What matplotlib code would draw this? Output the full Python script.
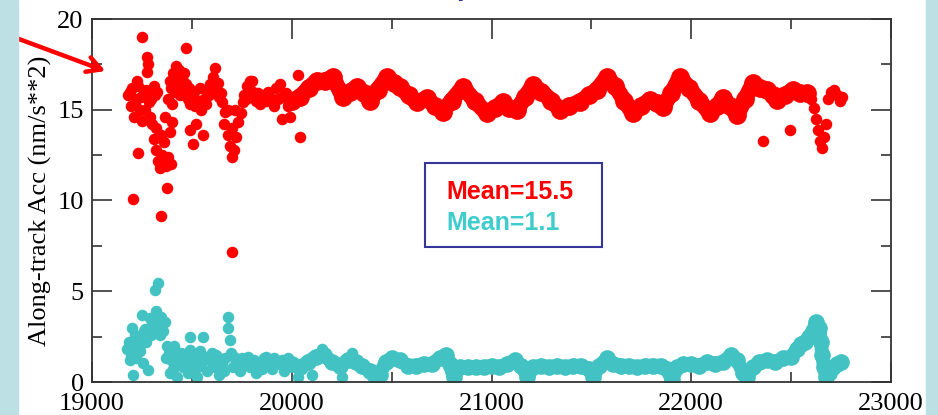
import matplotlib
matplotlib.use("Agg")
import matplotlib.pyplot as plt
from matplotlib.patches import Rectangle

# --- data ---
# red: scattered points (noisy start and the end)
red_x = [19180, 19195, 19200, 19210, 19220, 19230, 19240, 19250, 19260, 19270,
         19285, 19300, 19315, 19325, 19225, 19250, 19275, 19280, 19275, 19470,
         19616, 20031, 19205, 19230, 19290, 19345, 19375, 19700, 19300, 19310,
         19320, 19330, 19340, 19350, 19360, 19370, 19380, 19390, 19400, 19320,
         19345, 19365, 19395, 19380, 19395, 19410, 19420, 19430, 19440, 19450,
         19460, 19470, 19480, 19490, 19400, 19500, 19515, 19530, 19545, 19560,
         19575, 19590, 19605, 19620, 19635, 19650, 19665, 19680, 19490, 19505,
         19555, 19520, 19660, 19680, 19690, 19700, 19710, 19720, 19730, 19745,
         19755, 19700, 19715, 19760, 19775, 19790, 19805, 19820, 19840, 19855,
         19880, 19900, 19920, 19940, 19960, 19980, 19950, 19990, 20040,
         19190, 19215, 19245, 19265, 19295, 19310, 19390, 19405, 19415, 19435,
         19455, 19465, 19485, 19510, 19540, 19570, 19585, 19600, 19630, 19645,
         19770, 19800, 19830, 19870, 19910, 19930, 19970,
         22359, 22494, 22600, 22615, 22625, 22635, 22645, 22655, 22665, 22675,
         22685, 22700, 22715, 22730, 22745, 22755]
red_y = [15.8, 15.2, 16.2, 14.6, 15.6, 16.3, 15.0, 14.4, 15.9, 16.1,
         15.4, 16.0, 15.8, 16.0, 16.6, 19.0, 17.9, 17.5, 17.1, 18.4,
         17.3, 16.9, 10.1, 12.6, 14.6, 9.15, 10.7, 7.15, 14.2, 13.4,
         12.8, 12.2, 11.8, 12.5, 13.2, 11.9, 12.4, 13.8, 14.3, 14.0,
         13.6, 14.6, 12.0, 15.6, 16.2, 16.8, 17.4, 16.5, 15.8, 16.0,
         17.0, 16.4, 15.6, 15.3, 15.3, 15.7, 15.2, 15.5, 15.0, 15.6,
         16.0, 16.4, 16.8, 16.2, 15.7, 15.4, 14.9, 15.0, 13.9, 13.1,
         13.6, 14.2, 14.2, 13.6, 13.0, 12.4, 12.8, 13.5, 14.3, 14.8,
         15.4, 14.0, 15.0, 15.8, 16.3, 16.6, 16.0, 15.5, 15.3, 15.8,
         16.0, 15.6, 16.2, 16.4, 15.8, 15.2, 14.5, 14.6, 13.5,
         16.0, 15.3, 15.7, 15.0, 15.6, 16.3, 16.6, 17.0, 16.0, 17.2,
         16.6, 15.9, 16.2, 16.0, 16.2, 15.3, 15.8, 16.0, 16.5, 15.9,
         15.6, 16.6, 15.9, 15.5, 15.2, 15.6, 15.9,
         13.3, 13.9, 15.6, 15.1, 14.5, 13.9, 13.3, 12.9, 13.5, 14.2,
         15.6, 16.0, 16.1, 15.8, 15.5, 15.7]

# red: dense regular part
red_band_x = [20000, 20041, 20085, 20126, 20166, 20206, 20256, 20290, 20327, 20360,
              20392, 20430, 20477, 20510, 20542, 20585, 20627, 20677, 20715, 20757,
              20800, 20857, 20915, 20977, 21017, 21057, 21090, 21128, 21168, 21208,
              21250, 21300, 21343, 21390, 21443, 21490, 21528, 21578, 21620, 21665,
              21708, 21750, 21793, 21830, 21858, 21900, 21943, 21990, 22040, 22094,
              22130, 22159, 22195, 22229, 22270, 22309, 22345, 22379, 22410, 22429,
              22470, 22509, 22545, 22579]
red_band_y = [15.5, 15.7, 16.2, 16.6, 16.6, 16.8, 15.7, 16.0, 16.25, 15.9,
              15.5, 16.1, 16.8, 16.5, 16.25, 15.8, 15.4, 15.65, 15.2, 14.9,
              15.5, 16.25, 15.5, 14.8, 15.1, 15.4, 15.1, 15.0, 15.7, 16.35,
              16.0, 15.5, 15.0, 15.2, 15.45, 15.8, 16.1, 16.8, 16.3, 15.5,
              14.8, 15.2, 15.55, 15.35, 15.15, 15.9, 16.8, 16.2, 15.5, 14.8,
              15.2, 15.65, 15.2, 14.7, 15.6, 16.45, 16.2, 16.1, 15.8, 15.55,
              15.8, 16.1, 15.9, 15.9]

# cyan: scattered points at the start
cyan_x = [19175, 19185, 19195, 19200, 19205, 19210, 19220, 19230, 19240, 19250,
          19255, 19260, 19270, 19280, 19285, 19295, 19305, 19315, 19320, 19330,
          19335, 19345, 19355, 19365, 19375, 19385, 19395, 19405, 19415, 19425,
          19435, 19445, 19455, 19465, 19480, 19490, 19490, 19500, 19515, 19530,
          19545, 19555, 19560, 19575, 19590, 19605, 19620, 19635, 19650, 19665,
          19680, 19680, 19690, 19695, 19705, 19720, 19740, 19760, 19780, 19800,
          19820, 19840, 19860, 19880, 19900, 19920, 19940, 19960, 19980,
          20030, 20100, 20150, 20250, 20300,
          19190, 19215, 19235, 19265, 19290, 19310, 19340, 19350, 19370, 19390,
          19410, 19440, 19470, 19510, 19525, 19540, 19570, 19600, 19615, 19640,
          19660, 19710, 19730, 19750, 19790, 19810, 19850, 19870, 19890, 19910,
          19950, 19970]
cyan_y = [1.8, 2.2, 1.5, 3.0, 0.4, 2.0, 1.3, 2.4, 1.7, 3.7,
          1.05, 2.8, 2.2, 0.66, 3.0, 2.6, 3.4, 5.07, 3.9, 5.45,
          3.2, 3.6, 2.8, 3.3, 2.0, 1.6, 1.2, 0.7, 1.4, 0.3,
          1.0, 1.6, 0.8, 1.3, 0.5, 2.5, 1.75, 1.1, 0.7, 1.4,
          0.9, 2.5, 1.2, 0.6, 1.3, 0.9, 1.5, 0.4, 1.0, 1.3,
          3.6, 3.0, 2.3, 1.6, 0.8, 1.2, 0.6, 1.1, 1.4, 0.9,
          0.5, 1.1, 1.3, 0.9, 0.7, 1.2, 1.0, 0.6, 1.3,
          0.3, 0.4, 1.8, 0.3, 1.6,
          1.2, 2.6, 1.9, 2.9, 3.5, 2.9, 2.6, 3.3, 1.3, 0.5,
          2.0, 1.2, 1.0, 1.5, 0.3, 1.7, 1.4, 1.6, 0.8, 1.2,
          0.6, 1.4, 1.0, 1.3, 0.8, 1.2, 0.7, 1.4, 1.1, 1.3,
          1.2, 0.9]

# cyan: dense regular part
cyan_band_x = [20000, 20040, 20080, 20120, 20160, 20200, 20240, 20280, 20320, 20350,
               20390, 20420, 20440, 20470, 20500, 20540, 20580, 20620, 20660, 20700,
               20740, 20770, 20790, 20810, 20840, 20880, 20920, 20960, 21000, 21040,
               21080, 21120, 21150, 21180, 21210, 21250, 21290, 21330, 21370, 21410,
               21450, 21490, 21510, 21540, 21580, 21610, 21650, 21690, 21730, 21770,
               21810, 21850, 21880, 21903, 21930, 21960, 22000, 22040, 22080, 22120,
               22160, 22200, 22230, 22260, 22280, 22310, 22340, 22380, 22420, 22460,
               22500, 22530, 22550, 22570, 22590, 22610, 22625, 22640, 22650, 22655,
               22665, 22675, 22690, 22710, 22730, 22750]
cyan_band_y = [1.0, 0.8, 1.1, 1.4, 1.5, 1.1, 0.9, 1.2, 1.1, 0.9,
               0.6, 0.2, 0.4, 1.1, 1.3, 1.2, 0.9, 0.9, 1.0, 1.0,
               1.3, 1.5, 1.0, 0.3, 0.8, 0.8, 0.8, 0.8, 0.9, 0.8,
               1.0, 1.2, 0.9, 0.3, 0.8, 0.9, 0.8, 0.9, 0.8, 0.9,
               0.9, 0.7, 0.3, 0.9, 1.3, 1.0, 0.9, 0.9, 0.8, 0.9,
               0.9, 0.9, 0.7, 0.1, 0.8, 1.0, 1.0, 0.9, 1.1, 1.0,
               1.1, 1.5, 1.2, 0.5, 0.3, 0.8, 1.1, 1.2, 1.1, 1.3,
               1.4, 1.8, 2.1, 2.2, 2.5, 2.8, 3.3, 3.0, 2.2, 1.5,
               0.8, 0.3, 0.5, 0.8, 1.0, 1.1]

red = "#ff0000"
cyan = "#42c2c2"

fig = plt.figure(figsize=(9.38, 4.15), dpi=100, facecolor="white")
# light blue strips on the sides
fig.patches.append(Rectangle((0, 0), 18 / 938, 1, transform=fig.transFigure,
                             color="#bde0e4", zorder=0))
fig.patches.append(Rectangle((926 / 938, 0), 12 / 938, 1, transform=fig.transFigure,
                             color="#bde0e4", zorder=0))

ax = fig.add_axes([92 / 938, 33 / 415, 799 / 938, 363 / 415])

# dense parts: thick trace + dots so the band looks continuous
ax.plot(red_band_x, red_band_y, "-o", color=red, lw=11.5, ms=13.5, mew=0,
        solid_joinstyle="round", solid_capstyle="round")
ax.plot(red_x, red_y, "o", color=red, ms=8.3, mew=0)
ax.plot(cyan_band_x, cyan_band_y, "-o", color=cyan, lw=10, ms=12, mew=0,
        solid_joinstyle="round", solid_capstyle="round")
ax.plot(cyan_x, cyan_y, "o", color=cyan, ms=8.3, mew=0)

ax.set_xlim(19000, 23000)
ax.set_ylim(0, 20)
ax.set_xticks([19000, 20000, 21000, 22000, 23000])
ax.set_xticks([19500, 20500, 21500, 22500], minor=True)
ax.set_yticks([0, 5, 10, 15, 20])
ax.set_yticks([2.5, 7.5, 12.5, 17.5], minor=True)
ax.tick_params(which="both", direction="in", top=True, right=True,
               color="#222222", width=1.1, labelsize=19)
ax.tick_params(axis="x", pad=8)
ax.tick_params(axis="y", pad=6)
ax.tick_params(which="major", length=14.5)
ax.tick_params(which="minor", length=7.5)
for lab in ax.get_xticklabels() + ax.get_yticklabels():
    lab.set_family("Liberation Serif")
for s in ax.spines.values():
    s.set_color("#333333")
    s.set_linewidth(1.3)

ax.set_ylabel("Along-track Acc (nm/s**2)", family="Liberation Serif",
              fontsize=19, labelpad=4)

# mean box
ax.add_patch(Rectangle((0.417, 0.372), 0.221, 0.231, transform=ax.transAxes,
                       fill=False, edgecolor="#35359a", lw=1.5, zorder=5))
ax.text(0.444, 0.523, "Mean=15.5", transform=ax.transAxes, color=red,
        family="Liberation Sans", weight="bold", fontsize=18, va="center")
ax.text(0.444, 0.438, "Mean=1.1", transform=ax.transAxes, color="#3ecccc",
        family="Liberation Sans", weight="bold", fontsize=18, va="center")

# red arrow from the left edge
ax.annotate("", xy=(108, 343), xycoords="figure pixels",
            xytext=(0, 383), textcoords="figure pixels",
            arrowprops=dict(arrowstyle="->, head_length=1.0, head_width=0.55",
                            color=red, lw=3.2), annotation_clip=False)

# clipped title fragment at the very top
fig.text(465 / 938, 1 + 5 / 415, "p", color="#3333aa", fontsize=20,
         weight="bold", family="Liberation Sans", ha="center", va="baseline")

fig.savefig("out.png", dpi=100)
